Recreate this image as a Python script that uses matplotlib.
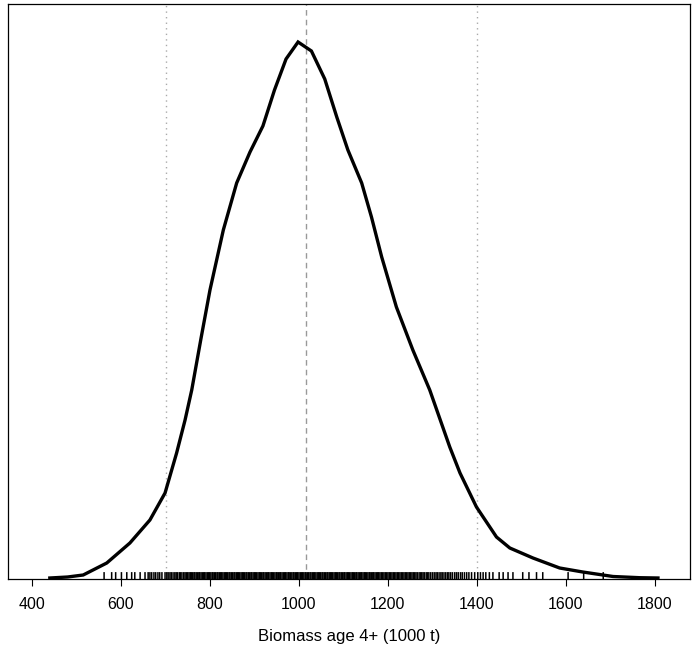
import matplotlib
matplotlib.use("Agg")
import matplotlib.pyplot as plt

# Density curve of Biomass age 4+ (1000 t), relative density units
biomass = [440, 480, 515, 568, 620, 665, 699, 725, 744, 759, 780, 800, 830, 860, 890,
           919, 945, 971, 998, 1028, 1058, 1085, 1110, 1141, 1163, 1186, 1219, 1256,
           1294, 1339, 1362, 1399, 1444, 1474, 1526, 1586, 1638, 1706, 1766, 1807]
density = [0, 1, 3, 15, 35, 58, 85, 125, 158, 188, 240, 288, 348, 395, 426,
           452, 488, 519, 536, 527, 499, 461, 428, 395, 361, 321, 271, 228,
           188, 131, 105, 71, 41, 30, 20, 10, 6, 1.5, 0.3, 0]

# Rug: individual samples
rug = [562, 579, 588, 601, 613, 624, 631, 643, 654, 661, 665, 669, 674, 678, 683, 687,
       692, 699, 703, 706, 710, 713, 717, 721, 724, 727, 731, 734, 737, 741, 744, 747,
       750, 753, 756, 758, 761, 764, 766, 769, 772, 775, 777, 780, 783, 786, 788, 791,
       794, 797, 799, 802, 805, 807, 810, 813, 816, 818, 821, 824, 826, 829, 832, 835,
       837, 840, 843, 845, 848, 851, 854, 856, 859, 862, 864, 867, 870, 873, 875, 878,
       881, 883, 886, 889, 892, 894, 897, 900, 902, 905, 908, 911, 913, 916, 919, 921,
       924, 927, 930, 932, 935, 938, 940, 943, 946, 949, 951, 954, 957, 959, 962, 965,
       968, 970, 973, 976, 978, 981, 984, 987, 989, 992, 995, 997, 1000, 1003, 1006,
       1008, 1011, 1014, 1016, 1019, 1022, 1025, 1027, 1030, 1033, 1035, 1038, 1041,
       1044, 1046, 1049, 1052, 1054, 1057, 1060, 1063, 1065, 1068, 1071, 1073, 1076,
       1079, 1082, 1084, 1087, 1090, 1092, 1095, 1098, 1101, 1103, 1106, 1109, 1111,
       1114, 1117, 1120, 1122, 1125, 1128, 1130, 1133, 1136, 1139, 1141, 1144, 1147,
       1149, 1152, 1155, 1158, 1160, 1163, 1166, 1168, 1171, 1174, 1177, 1179, 1182,
       1185, 1188, 1191, 1194, 1197, 1200, 1203, 1206, 1209, 1212, 1215, 1218, 1221,
       1224, 1227, 1230, 1233, 1236, 1239, 1242, 1245, 1248, 1251, 1254, 1257, 1260,
       1263, 1266, 1270, 1273, 1276, 1279, 1282, 1286, 1289, 1292, 1296, 1300, 1304,
       1308, 1311, 1315, 1319, 1322, 1326, 1330, 1334, 1337, 1341, 1345, 1350, 1354,
       1358, 1363, 1367, 1372, 1377, 1382, 1388, 1395, 1402, 1408, 1414, 1420, 1428,
       1436, 1450, 1459, 1470, 1481, 1503, 1517, 1534, 1548, 1605, 1640, 1684]

# Reference lines: lower bound, median, upper bound
ref_lower = 702
ref_median = 1016
ref_upper = 1401

xticks = [400, 600, 800, 1000, 1200, 1400, 1600, 1800]
xlabel = "Biomass age 4+ (1000 t)"

plt.rcParams['font.family'] = ['Liberation Sans', 'DejaVu Sans']

fig = plt.figure(figsize=(6.93, 6.52), dpi=100)
ax = fig.add_axes([8 / 693, 73 / 652, 682 / 693, 575 / 652])

ax.axvline(ref_lower, color='#aaaaaa', linestyle=(0, (1, 3)), linewidth=1.0, zorder=1)
ax.axvline(ref_upper, color='#aaaaaa', linestyle=(0, (1, 3)), linewidth=1.0, zorder=1)
ax.axvline(ref_median, color='#999999', linestyle=(0, (4, 3)), linewidth=1.0, zorder=1)

ax.plot(biomass, density, color='black', linewidth=2.4, solid_joinstyle='miter', zorder=3)

ax.vlines(rug, 0, 0.012, transform=ax.get_xaxis_transform(), color='black',
          linewidth=1.1, zorder=2, snap=False)

ax.set_xlim(346, 1879)
ax.set_ylim(-1, 574)
ax.set_yticks([])
ax.set_xticks(xticks)
ax.set_xticklabels([str(t) for t in xticks])
ax.tick_params(axis='x', direction='out', length=5, width=0.8, pad=8, labelsize=11.5)
for s in ax.spines.values():
    s.set_linewidth(0.9)
ax.set_xlabel(xlabel, fontsize=12, labelpad=12)

fig.savefig('out.png', dpi=100)
